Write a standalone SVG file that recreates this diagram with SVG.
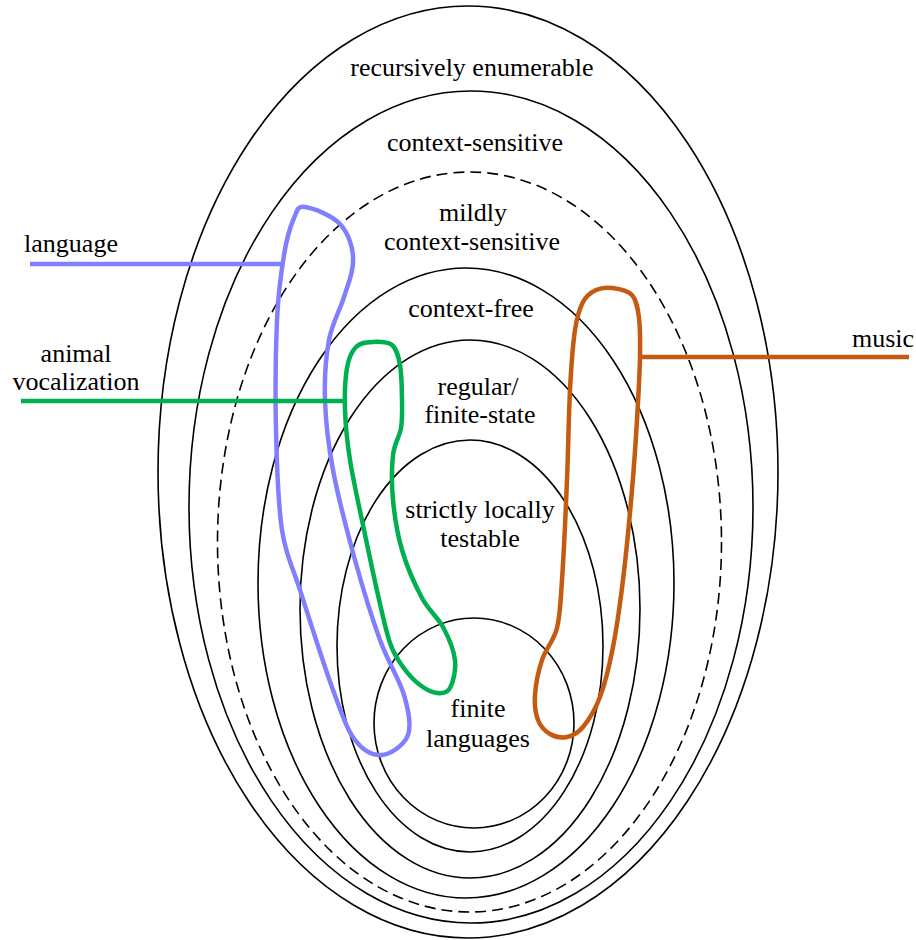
<svg xmlns="http://www.w3.org/2000/svg" width="916" height="940" viewBox="0 0 916 940">
<style>
  .cls { fill: none; stroke: #000; stroke-width: 1.6; }
  .dash { stroke-dasharray: 11 6; }
  text { font-family: 'Liberation Serif', 'Times New Roman', Times, serif; font-size: 26px; fill: #000; text-anchor: middle; }
  .blob { fill: none; stroke-width: 4.5; stroke-linejoin: round; }
  .lead { fill: none; stroke-width: 4.5; }
  .lang { stroke: #8080ff; }
  .anim { stroke: #00b050; }
  .mus { stroke: #c55a11; }
</style>
<rect width="916" height="940" fill="#fff"/>
<g font-family="Liberation Serif, Times New Roman, serif" font-size="26" text-anchor="middle">
<g id="recursively-enumerable">
  <ellipse class="cls" cx="468" cy="472" rx="310" ry="466"/>
  <text x="472" y="76">recursively enumerable</text>
</g>
<g id="context-sensitive">
  <ellipse class="cls" cx="471" cy="507" rx="282" ry="416"/>
  <text x="475" y="151">context-sensitive</text>
</g>
<g id="mildly-context-sensitive">
  <ellipse class="cls dash" cx="469.5" cy="542" rx="252" ry="370"/>
  <text x="473" y="221">mildly</text>
  <text x="472" y="250">context-sensitive</text>
</g>
<g id="context-free">
  <ellipse class="cls" cx="466" cy="583" rx="208" ry="315"/>
  <text x="471" y="317">context-free</text>
</g>
<g id="regular">
  <ellipse class="cls" cx="470" cy="609" rx="170" ry="269"/>
  <text x="478" y="395">regular/</text>
  <text x="480" y="423">finite-state</text>
</g>
<g id="strictly-locally-testable">
  <ellipse class="cls" cx="470" cy="646" rx="133" ry="206"/>
  <text x="480" y="518">strictly locally</text>
  <text x="480" y="547">testable</text>
</g>
<g id="finite-languages">
  <ellipse class="cls" cx="474" cy="723" rx="100" ry="105"/>
  <text x="478" y="717">finite</text>
  <text x="478" y="747">languages</text>
</g>

<g id="language">
  <path class="blob lang" d="M305,207 C312.7,208 332,215.2 340,224 C348,232.8 353.7,247.8 353,260 C353.7,272.2 348,283.7 344,297 C340,310.3 332.2,322.8 329,340 C325.8,357.2 324.3,378.3 325,400 C325.7,421.7 328,443.3 333,470 C338,496.7 347.2,531.7 355,560 C362.8,588.3 371.8,617.5 380,640 C388.2,662.5 399.3,679.2 404,695 C408.7,710.8 411.7,725 408,735 C404.3,745 390.8,754.2 382,755 C373.2,755.8 363.2,750.8 355,740 C346.8,729.2 342.2,715 333,690 C323.8,665 308.5,616.7 300,590 C291.5,563.3 286,556.7 282,530 C278,503.3 276.8,465 276,430 C275.2,395 275.7,349.2 277,320 C278.3,290.8 281.2,272 284,255 C286.8,238 290.5,226 294,218 C297.5,210 297.3,206 305,207 Z"/>
  <text x="71" y="252">language</text>
</g>
<g id="animal-vocalization">
  <path class="blob anim" d="M372,342 C378,341.7 387.3,341.2 392,345 C396.7,348.8 398.3,355.8 400,365 C401.7,374.2 401.8,389.5 402,400 C402.2,410.5 402.5,418.8 401,428 C399.5,437.2 394.3,443 393,455 C391.7,467 391.5,484.2 393,500 C394.5,515.8 397.2,533.7 402,550 C406.8,566.3 415.2,585.2 422,598 C428.8,610.8 437.5,616.7 443,627 C448.5,637.3 453.8,649.8 455,660 C456.2,670.2 453,682.5 450,688 C447,693.5 442,693.5 437,693 C432,692.5 425.7,689.3 420,685 C414.3,680.7 408,674 403,667 C398,660 394.2,655 390,643 C385.8,631 382.5,614.7 378,595 C373.5,575.3 367.7,547.5 363,525 C358.3,502.5 353,479.2 350,460 C347,440.8 345.5,425.3 345,410 C344.5,394.7 345.2,378.5 347,368 C348.8,357.5 351.8,351.3 356,347 C360.2,342.7 366,342.3 372,342 Z"/>
  <text x="76" y="362">animal</text>
  <text x="76" y="390">vocalization</text>
</g>
<g id="music">
  <path class="blob mus" d="M612,288 C618,288.8 627.5,290 632,295 C636.5,300 637.7,307.7 639,318 C640.3,328.3 640.3,340 640,357 C639.7,374 638.3,397.8 637,420 C635.7,442.2 634.3,463.3 632,490 C629.7,516.7 626.2,553.8 623,580 C619.8,606.2 616.8,627.5 613,647 C609.2,666.5 605,683.7 600,697 C595,710.3 588.5,720.3 583,727 C577.5,733.7 572.5,735.8 567,737 C561.5,738.2 554.8,736.8 550,734 C545.2,731.2 540.5,726.5 538,720 C535.5,713.5 534.3,705 535,695 C535.7,685 538.3,671.2 542,660 C545.7,648.8 553.7,641.3 557,628 C560.3,614.7 560.3,604.7 562,580 C563.7,555.3 565.7,511.7 567,480 C568.3,448.3 568.7,415 570,390 C571.3,365 572.8,344.7 575,330 C577.2,315.3 579.5,308.7 583,302 C586.5,295.3 591.2,292.3 596,290 C600.8,287.7 606,287.2 612,288 Z"/>
  <text x="883" y="347">music</text>
</g>

<g id="connectors">
  <line class="lead lang" x1="30" y1="264" x2="281" y2="264"/>
  <line class="lead anim" x1="21" y1="401" x2="345" y2="401"/>
  <line class="lead mus" x1="640" y1="357" x2="909" y2="357"/>
</g>
</g>
</svg>
